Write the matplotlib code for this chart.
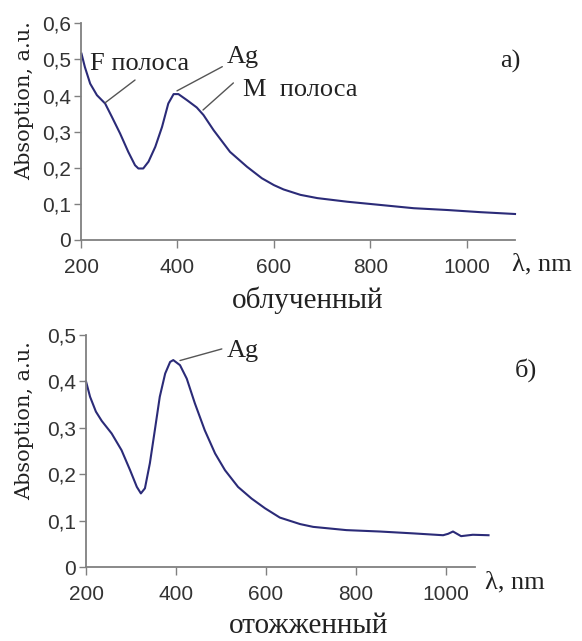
import matplotlib.pyplot as plt

# данные спектров
wl_a = [201, 208, 219, 233, 250, 264, 281, 298, 312, 319, 329, 340, 354, 368, 381,
        392, 402, 420, 440, 454, 475, 509, 544, 575, 600, 620, 655, 690, 752, 821,
        890, 960, 1029, 1100]
abs_a = [0.516, 0.479, 0.433, 0.401, 0.378, 0.341, 0.295, 0.244, 0.207, 0.198, 0.198,
         0.217, 0.258, 0.313, 0.378, 0.404, 0.404, 0.387, 0.367, 0.346, 0.304, 0.244,
         0.203, 0.171, 0.152, 0.140, 0.125, 0.116, 0.106, 0.097, 0.088, 0.083, 0.077,
         0.072]

wl_b = [200, 209, 222, 235, 257, 279, 298, 313, 322, 331, 342, 353, 364, 376, 387, 394,
        409, 424, 442, 464, 487, 509, 538, 568, 598, 631, 676, 705, 779, 853, 927,
        994, 1005, 1016, 1034, 1060, 1095]
abs_b = [0.400, 0.367, 0.335, 0.315, 0.288, 0.252, 0.209, 0.173, 0.159, 0.170, 0.224,
         0.295, 0.367, 0.417, 0.442, 0.446, 0.435, 0.406, 0.353, 0.295, 0.245, 0.209,
         0.173, 0.148, 0.127, 0.107, 0.093, 0.087, 0.080, 0.077, 0.073, 0.069, 0.072,
         0.077, 0.067, 0.070, 0.069]

ticks_x = [200, 400, 600, 800, 1000]
ticks_y_a = [0, 0.1, 0.2, 0.3, 0.4, 0.5, 0.6]
ticks_y_b = [0, 0.1, 0.2, 0.3, 0.4, 0.5]

line_color = '#2b2b78'
axis_color = '#808080'
text_color = '#222222'
serif = 'Liberation Serif'
sans = 'Liberation Sans'

fig = plt.figure(figsize=(5.82, 6.41), dpi=100)
fig.patch.set_facecolor('white')


def setup(ax, yticks, ylim, xmax):
    ax.set_xlim(200, xmax)
    ax.set_ylim(*ylim)
    for s in ['top', 'right']:
        ax.spines[s].set_visible(False)
    for s in ['left', 'bottom']:
        ax.spines[s].set_color(axis_color)
        ax.spines[s].set_linewidth(1.3)
    ax.set_xticks(ticks_x)
    ax.set_yticks(yticks)
    ax.set_yticklabels(['0' if v == 0 else f'{v:.1f}'.replace('.', ',') for v in yticks])
    ax.tick_params(axis='x', direction='out', length=6, width=1, color=axis_color,
                   pad=7, labelsize=15, labelcolor='#333333')
    ax.tick_params(axis='y', direction='out', length=5, width=1, color=axis_color,
                   pad=2, labelsize=15, labelcolor='#333333')
    for lab in ax.get_xticklabels() + ax.get_yticklabels():
        lab.set_fontfamily(sans)


def leader(ax, xy, end):
    ax.annotate('', xy=xy, xytext=end,
                arrowprops=dict(arrowstyle='-', color='#555555', lw=1, shrinkA=0, shrinkB=0))


# ---- а) облученный ----
ax1 = fig.add_axes([0.1392, 0.6256, 0.7457, 0.338])
ax1.plot(wl_a, abs_a, color=line_color, lw=1.5, clip_on=False, solid_joinstyle='round')
setup(ax1, ticks_y_a, (0, 0.6), 1100)

leader(ax1, (250, 0.38), (312, 0.443))
ax1.text(219, 0.47, 'F полоса', fontsize=19, family=serif, color=text_color)
leader(ax1, (399, 0.413), (493, 0.48))
ax1.text(503, 0.49, 'Ag', fontsize=19, family=serif, color=text_color)
leader(ax1, (453, 0.36), (516, 0.435))
ax1.text(536, 0.40, 'M  полоса', fontsize=19, family=serif, color=text_color)

# ---- б) отожженный ----
ax2 = fig.add_axes([0.1478, 0.115, 0.6684, 0.3624])
ax2.plot(wl_b, abs_b, color=line_color, lw=1.5, clip_on=False, solid_joinstyle='round')
setup(ax2, ticks_y_b, (0, 0.5), 1065)

leader(ax2, (409, 0.445), (502, 0.47))
ax2.text(513, 0.453, 'Ag', fontsize=19, family=serif, color=text_color)

# подписи
fig.text(25 / 582, 1 - 101 / 641, 'Absoption, a.u.', rotation=90, ha='center', va='center',
         fontsize=15, family='DejaVu Serif', color=text_color)
fig.text(25 / 582, 1 - 421 / 641, 'Absoption, a.u.', rotation=90, ha='center', va='center',
         fontsize=15, family='DejaVu Serif', color=text_color)

fig.text(500 / 582, 1 - 68 / 641, 'а)', fontsize=19, family=serif, color=text_color)
fig.text(515 / 582, 1 - 377 / 641, 'б)', fontsize=19, family=serif, color=text_color)
fig.text(512 / 582, 1 - 270 / 641, 'λ, nm', fontsize=19, family=serif, color=text_color)
fig.text(485 / 582, 1 - 588 / 641, 'λ, nm', fontsize=19, family=serif, color=text_color)
fig.text(308 / 582, 1 - 308 / 641, 'облученный', ha='center', fontsize=21, family=serif,
         color=text_color)
fig.text(309 / 582, 1 - 633 / 641, 'отожженный', ha='center', fontsize=21, family=serif,
         color=text_color)

plt.savefig('out.png', dpi=100, facecolor='white')
plt.close()
